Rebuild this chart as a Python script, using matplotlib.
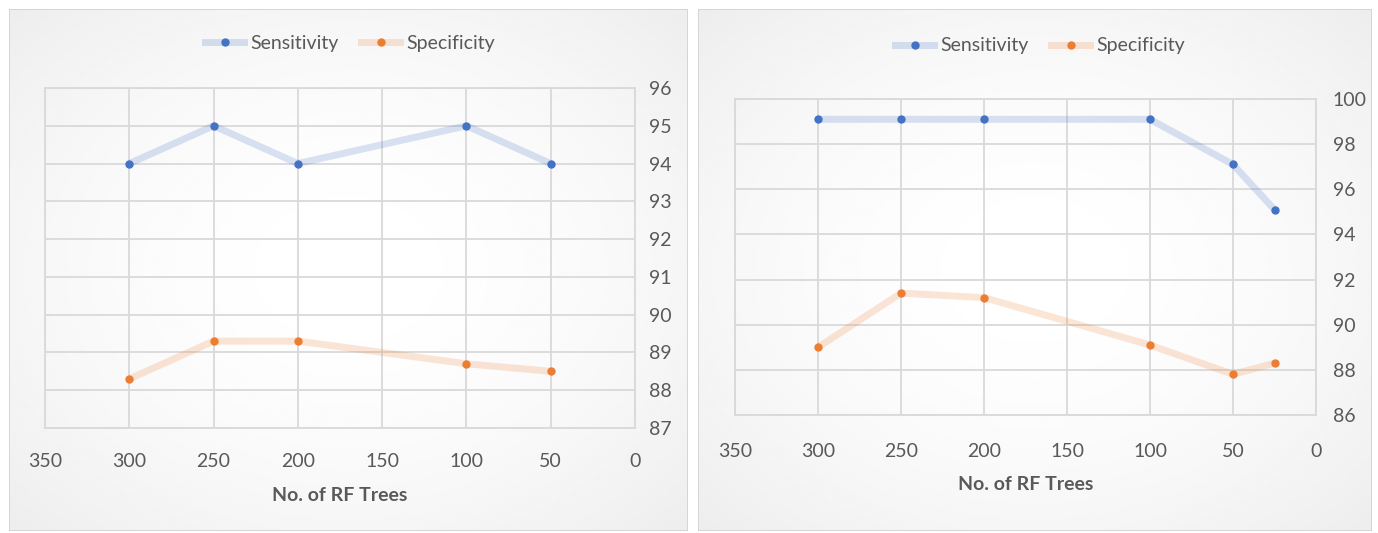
import numpy as np
import matplotlib
matplotlib.use("Agg")
import matplotlib.pyplot as plt
from matplotlib.patches import Rectangle

# left chart
trees_a = [300, 250, 200, 100, 50]
sens_a = [94, 95, 94, 95, 94]
spec_a = [88.3, 89.3, 89.3, 88.7, 88.5]

# right chart
trees_b = [300, 250, 200, 100, 50, 25]
sens_b = [99.1, 99.1, 99.1, 99.1, 97.1, 95.1]
spec_b = [89.0, 91.4, 91.2, 89.1, 87.8, 88.3]

x_ticks = [350, 300, 250, 200, 150, 100, 50, 0]
y_ticks_a = list(range(87, 97))
y_ticks_b = list(range(86, 101, 2))

plt.rcParams['font.family'] = ['Liberation Sans Narrow', 'Lato', 'DejaVu Sans']

W, H = 1378, 533
fig = plt.figure(figsize=(W / 100, H / 100), dpi=100)
fig.patch.set_facecolor('white')

txt = '#595959'
grid = '#d9d9d9'


def panel_bg(x0, y0, x1, y1):
    # radial grey-to-white background like the excel chart area
    ax = fig.add_axes([x0 / W, 1 - y1 / H, (x1 - x0) / W, (y1 - y0) / H])
    yy, xx = np.mgrid[-1:1:200j, -1:1:200j]
    r = np.sqrt(xx ** 2 + yy ** 2) / np.sqrt(2)
    img = 1.0 - 0.07 * np.clip(r, 0, 1) ** 1.8
    ax.imshow(img, cmap='gray', vmin=0, vmax=1, aspect='auto',
              extent=[0, 1, 0, 1], interpolation='bilinear')
    ax.add_patch(Rectangle((0, 0), 1, 1, transform=ax.transAxes, fill=False,
                           edgecolor='#d0d0d0', linewidth=1.2))
    ax.set_axis_off()
    ax.set_zorder(0)


def chart(rect, trees, sens, spec, yticks, xpad, ypad):
    ax = fig.add_axes([rect[0] / W, 1 - rect[3] / H,
                       (rect[2] - rect[0]) / W, (rect[3] - rect[1]) / H])
    ax.set_zorder(1)
    ax.patch.set_alpha(0)
    ax.plot(trees, sens, color='#4472c4', alpha=0.2, linewidth=5,
            solid_capstyle='round')
    ax.plot(trees, spec, color='#ed7d31', alpha=0.2, linewidth=5,
            solid_capstyle='round')
    ax.plot(trees, sens, linestyle='none', marker='o', markersize=5,
            color='#4472c4')
    ax.plot(trees, spec, linestyle='none', marker='o', markersize=5,
            color='#ed7d31')
    ax.set_xlim(350, 0)
    ax.set_ylim(yticks[0], yticks[-1])
    ax.set_xticks(x_ticks)
    ax.set_yticks(yticks)
    ax.yaxis.tick_right()
    ax.grid(True, color=grid, linewidth=1.3)
    ax.set_axisbelow(True)
    for s in ax.spines.values():
        s.set_color(grid)
        s.set_linewidth(1.3)
    ax.tick_params(axis='both', length=0, labelsize=14, labelcolor=txt)
    ax.tick_params(axis='x', pad=xpad)
    ax.tick_params(axis='y', pad=ypad)
    ax.set_xlabel('No. of RF Trees', fontsize=14, fontweight='bold',
                  color=txt, labelpad=12)
    return ax


def legend(cx, cy):
    h1, = plt.plot([], [], color='#4472c4', alpha=0.2, linewidth=5)
    h1b, = plt.plot([], [], color='#4472c4', marker='o', markersize=5,
                    linestyle='none')
    h2, = plt.plot([], [], color='#ed7d31', alpha=0.2, linewidth=5)
    h2b, = plt.plot([], [], color='#ed7d31', marker='o', markersize=5,
                    linestyle='none')
    fig.legend([(h1, h1b), (h2, h2b)], ['Sensitivity', 'Specificity'],
               loc='center', bbox_to_anchor=(cx / W, 1 - cy / H), ncol=2,
               frameon=False, fontsize=14, labelcolor=txt,
               handlelength=2.0, handletextpad=0.3, columnspacing=1.2)


panel_bg(9, 9, 688, 531)
panel_bg(698, 9, 1372, 531)

chart((45, 88, 635, 428), trees_a, sens_a, spec_a, y_ticks_a, 18, 10)
legend(350, 43)

chart((735, 99, 1316, 415), trees_b, sens_b, spec_b, y_ticks_b, 20, 12)
legend(1040, 46)

fig.savefig('out.png', dpi=100, facecolor='white')
